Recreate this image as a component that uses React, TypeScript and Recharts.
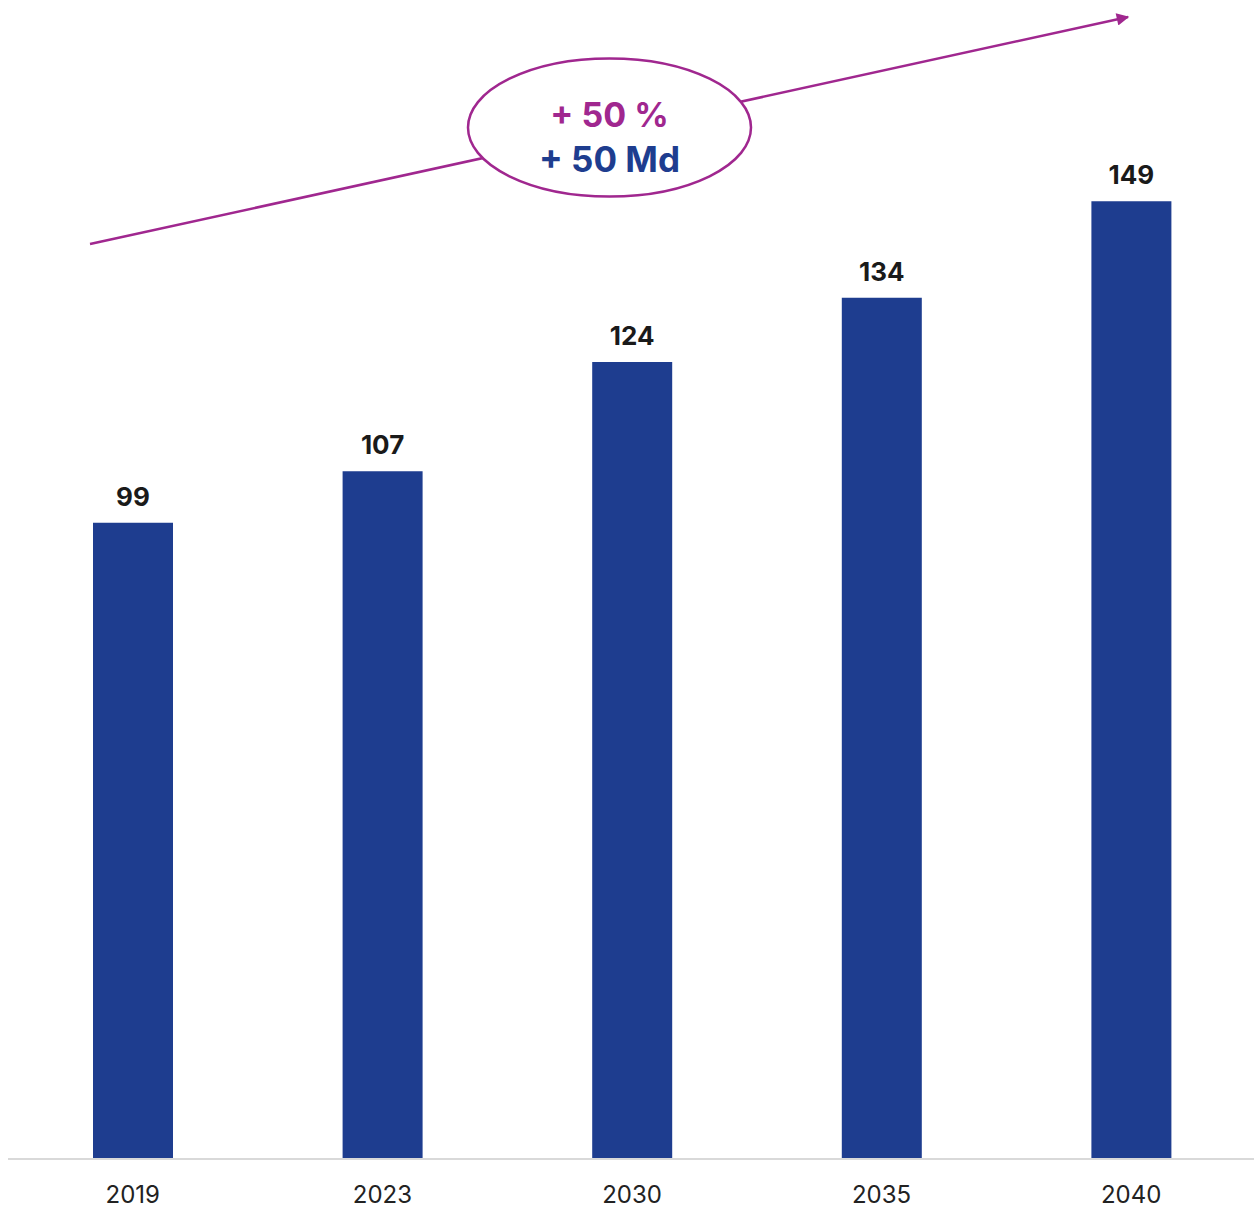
import React from "react";
import { BarChart, Bar, XAxis, YAxis, LabelList } from "recharts";

const YEARS = ["2019", "2023", "2030", "2035", "2040"];
const VALUES = [99, 107, 124, 134, 149];
const GROWTH_PCT = "+ 50 %";
const GROWTH_ABS = "+ 50 Md";

const BAR_COLOR = "#1E3D8F";
const ACCENT = "#A0278F";
const FONT = "Inter, 'Noto Sans', sans-serif";

const data = YEARS.map((year, i) => ({ year, value: VALUES[i] }));

// flèche de tendance + ellipse (annotation, en pixels de la zone du graphique)
function TrendOverlay() {
  return (
    <svg
      width={1254}
      height={1209}
      style={{ position: "absolute", left: 0, top: 0, pointerEvents: "none" }}
    >
      <defs>
        <marker
          id="arrowHead"
          viewBox="0 0 10 10"
          refX="9"
          refY="5"
          markerWidth="6"
          markerHeight="5"
          markerUnits="strokeWidth"
          orient="auto"
        >
          <path d="M0,0 L10,5 L0,10 z" fill={ACCENT} />
        </marker>
      </defs>
      <line
        x1={90}
        y1={244}
        x2={1128}
        y2={17}
        stroke={ACCENT}
        strokeWidth={2.5}
        markerEnd="url(#arrowHead)"
      />
      <ellipse cx={609.5} cy={127.5} rx={141.5} ry={69} fill="#fff" stroke={ACCENT} strokeWidth={2.5} />
      <text x={609.5} y={127} textAnchor="middle" fontFamily={FONT} fontWeight={700} fontSize={34} fill={ACCENT}>
        {GROWTH_PCT}
      </text>
      <text x={609.5} y={172} textAnchor="middle" fontFamily={FONT} fontWeight={700} fontSize={35} fill={BAR_COLOR}>
        {GROWTH_ABS}
      </text>
    </svg>
  );
}

export default function App() {
  return (
    <div style={{ position: "absolute", left: 0, top: 0, width: 1254, height: 1209, background: "#fff", overflow: "hidden" }}>
      <BarChart
        width={1254}
        height={1209}
        data={data}
        margin={{ top: 2, right: -2, bottom: 0, left: 8 }}
      >
        <XAxis
          dataKey="year"
          height={50}
          tickLine={false}
          tickSize={0}
          tickMargin={27}
          axisLine={{ stroke: "#d9d9d9", strokeWidth: 2 }}
          tick={{ fontSize: 24, fill: "#222", fontFamily: FONT }}
          interval={0}
        />
        <YAxis hide domain={[0, 180]} />
        <Bar dataKey="value" fill={BAR_COLOR} barSize={80} isAnimationActive={false}>
          <LabelList
            dataKey="value"
            position="top"
            offset={17}
            style={{ fontSize: 26, fontWeight: 700, fill: "#1a1a1a", fontFamily: FONT }}
          />
        </Bar>
      </BarChart>
      <TrendOverlay />
    </div>
  );
}
